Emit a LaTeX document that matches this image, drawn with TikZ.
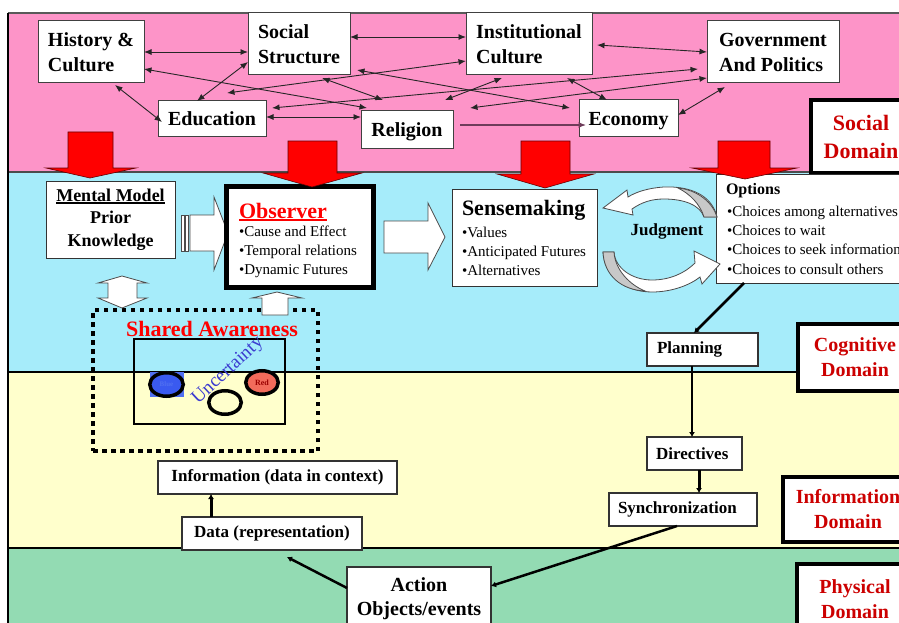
\documentclass[tikz,border=0pt]{standalone}
\usepackage{fontspec}
\setmainfont{Liberation Serif}
\usetikzlibrary{shapes.geometric,arrows.meta,calc}
\definecolor{pinkbg}{HTML}{FD94C8}
\definecolor{bluebg}{HTML}{A6ECFA}
\definecolor{yellowbg}{HTML}{FFFFCC}
\definecolor{greenbg}{HTML}{93DBB3}
\definecolor{domred}{HTML}{CC0000}
\definecolor{brightred}{HTML}{FF0000}
\definecolor{uncblue}{HTML}{3B3BD0}
\definecolor{bluefill}{HTML}{3A5AF0}
\definecolor{bluesq}{HTML}{5070F0}
\definecolor{redfill}{HTML}{F26B5B}
\definecolor{ribbon}{HTML}{C8C8C8}
\definecolor{mauve}{HTML}{6E3C5A}
\newcommand\thickul[3]{\setbox0\hbox{#3}\leavevmode\rlap{\color{#1}\rule[-3pt]{\wd0}{#2}}\box0}
\begin{document}
\begin{tikzpicture}[x=1pt,y=-1pt,
  every node/.style={inner sep=0pt, outer sep=0pt},
  sbox/.style={draw=black!75, line width=1pt, fill=white, font=\bfseries\fontsize{20}{25}\selectfont, align=left},
  lbox/.style={draw=black!80, line width=1.1pt, fill=white, font=\bfseries\fontsize{17}{20}\selectfont},
  dom/.style={draw=black, line width=3.5pt, fill=white, text=domred, align=center, font=\bfseries\fontsize{20}{25}\selectfont},
  web/.style={draw=black!85, line width=0.9pt, >={Latex[length=7.5pt,width=6pt]}, <->},
  flow/.style={draw=black, line width=2.2pt, >={Latex[length=5pt,width=6pt]}, ->},
  redarr/.style={fill=brightred, draw=black!60!red, line width=0.6pt},
  wblock/.style={fill=white, draw=black!70, line width=0.8pt},
  rib/.style={fill=white, draw=black!70, line width=0.8pt},
  blt/.style={font=\fontsize{15}{19}\selectfont, align=left, anchor=west},
]
\useasboundingbox (0,0) rectangle (899,623);
\fill[white] (0,0) rectangle (899,623);
% domain bands
\fill[pinkbg] (8,13) rectangle (899,172);
\fill[bluebg] (8,172) rectangle (899,372);
\fill[yellowbg] (8,372) rectangle (899,548);
\fill[greenbg] (8,548) rectangle (899,623);
\draw[black!65, line width=1.2pt] (8,13) -- (899,13);
\draw[black!70, line width=2pt] (8,172) -- (899,172);
\draw[black, line width=2pt] (8,372) -- (899,372);
\draw[black, line width=2pt] (8,548) -- (899,548);
\draw[black, line width=2pt] (8,13) -- (8,623);

% social domain boxes
\node[sbox, minimum width=106, minimum height=62] (hist) at (91,52) {History \&\\Culture};
\node[sbox, minimum width=102, minimum height=62] (soc) at (299,44) {Social\\Structure};
\node[sbox, minimum width=126, minimum height=62] (inst) at (529,44) {Institutional\\Culture};
\node[sbox, minimum width=132, minimum height=62] (gov) at (773,52) {Government\\And Politics};
\node[sbox, minimum width=108, minimum height=36, text depth=0pt] (edu) at (212,119) {Education};
\node[sbox, minimum width=92, minimum height=37, text depth=0pt] (rel) at (407,129.5) {Religion};
\node[sbox, minimum width=99, minimum height=37, text depth=0pt] (econ) at (628.5,118.5) {Economy};

\coordinate (f7) at (383,100);
\coordinate (f8) at (227,93);
\coordinate (f11) at (470,108);
\coordinate (f12) at (445,100);

\draw[web] (hist.east) -- (hist.east -| soc.west);
\draw[web] ([yshift=7pt]soc.east) -- ([yshift=7pt]inst.west);
\draw[web] ([yshift=-17pt]hist.east) -- ([xshift=6pt,yshift=3pt]rel.north west);
\draw[web] ([xshift=24pt,yshift=-2pt]hist.south) -- ([xshift=4pt,yshift=-3pt]edu.west);
\draw[web] ([yshift=-18pt]soc.west) -- ([xshift=-15pt]edu.north);
\draw[web] ([yshift=2pt]edu.east) -- ([yshift=2pt]edu.east -| rel.west);
\draw[web] ([xshift=23pt,yshift=-3pt]soc.south) -- (f7);
\draw[web] ([yshift=-17pt]inst.west) -- (f8);
\draw[web] ([xshift=7pt,yshift=-26pt]soc.east) -- ([xshift=-9pt,yshift=-8pt]econ.north west);
\draw[web] ([xshift=6pt,yshift=-7pt]edu.north east) -- ([xshift=-9pt,yshift=-17pt]gov.west);
\draw[web] ([yshift=-26pt]gov.west) -- (f11);
\draw[web] ([xshift=-27pt,yshift=-3pt]inst.south) -- (f12);
\draw[web] ([xshift=38pt,yshift=-3pt]inst.south) -- ([xshift=-21.5pt]econ.north);
\draw[web] ([xshift=-48pt,yshift=-4pt]gov.south) -- ([yshift=3.5pt]econ.east);
\draw[web] ([xshift=5pt,yshift=-1pt]inst.east) -- (gov.west);
\draw[web, draw=mauve, line width=1.2pt, ->] ([xshift=7pt,yshift=4.5pt]rel.east) -- ([xshift=7pt,yshift=4.5pt]rel.east -| econ.west);

% domain labels
\node[dom, font=\bfseries\fontsize{22}{28}\selectfont, minimum width=100, minimum height=73] (socdom) at (861,136.5) {Social\\Domain};
\node[dom, minimum width=114, minimum height=67] (cogdom) at (855,357.5) {Cognitive\\Domain};
\node[dom, minimum width=130, minimum height=65] (infdom) at (848,509.5) {Information\\Domain};
\node[dom, minimum width=116, minimum height=70] (phydom) at (855,599) {Physical\\Domain};

% cognitive domain
\node[draw=black!80, line width=1pt, fill=white, minimum width=129, minimum height=77, align=center, font=\bfseries\fontsize{18}{22.5}\selectfont] (mm) at (110.5,219.5) {\thickul{black}{1.8pt}{Mental Model}\\Prior\\Knowledge};

% striped arrow mental model -> observer
\filldraw[wblock] (181,215) rectangle (184,251);
\filldraw[wblock] (185.5,215) rectangle (188.5,251);
\filldraw[wblock] (190,215) -- (214,215) -- (214,197) -- (228,233) -- (214,270) -- (214,251) -- (190,251) -- cycle;

\node[draw=black, line width=5pt, fill=white, minimum width=147, minimum height=101] (obs) at (300,237) {};
\node[anchor=west, text=brightred, font=\bfseries\fontsize{22}{24}\selectfont] (obsT) at (239,212) {\thickul{brightred}{1.8pt}{Observer}};
\node[blt] (obsB) at (239,252) {•Cause and Effect\\•Temporal relations\\•Dynamic Futures};

% observer -> sensemaking
\filldraw[wblock] (384,221) -- (428,221) -- (428,203) -- (445,237) -- (428,270) -- (428,253) -- (384,253) -- cycle;

\node[draw=black!80, line width=1pt, fill=white, minimum width=145, minimum height=97] (sense) at (524.5,237.5) {};
\node[anchor=west, font=\bfseries\fontsize{22}{24}\selectfont] (senseT) at (462,210) {Sensemaking};
\node[blt] (senseB) at (462,251) {•Values\\•Anticipated Futures\\•Alternatives};

\node[draw=black!80, line width=1pt, fill=white, minimum width=194, minimum height=109] (opt) at (813,228.5) {};
\node[anchor=west, font=\bfseries\fontsize{16}{18}\selectfont] (optT) at (726,191) {Options};
\node[blt, font=\fontsize{15}{19.3}\selectfont] (optB) at (727,240) {•Choices among alternatives\\•Choices to wait\\•Choices to seek information\\•Choices to consult others};

% judgment ribbons
\filldraw[rib] (717,217) .. controls (712,195) and (690,186) .. (664,187) .. controls (648,188) and (636,192) .. (628,197) -- (627,190) -- (603,208) -- (633,215) -- (632,209) .. controls (642,202) and (652,199) .. (664,199) .. controls (684,199) and (700,205) .. (704,217) -- cycle;
\filldraw[fill=ribbon, draw=black!70, line width=0.8pt] (678,188) .. controls (698,190) and (713,203) .. (717,217) -- (704,217) .. controls (700,204) and (690,194) .. (678,188) -- cycle;
\filldraw[rib] (603,252) .. controls (604,276) and (625,292) .. (652,292) .. controls (672,292) and (690,285) .. (700,277) -- (702,284) -- (720,264) -- (694,251) -- (695,263) .. controls (685,273) and (670,280) .. (652,280) .. controls (632,280) and (615,268) .. (614,252) -- cycle;
\filldraw[fill=ribbon, draw=black!70, line width=0.8pt] (603,252) .. controls (604,276) and (622,290) .. (645,291) .. controls (630,285) and (615,270) .. (614,252) -- cycle;
\node[font=\bfseries\fontsize{17}{20}\selectfont] (judg) at (667,231) {Judgment};

% planning chain
\node[lbox, minimum height=33, text width=91, inner xsep=10pt, align=left] (plan) at (702.5,349.5) {Planning};
\node[lbox, minimum height=33, text width=77, inner xsep=9pt, align=left] (dir) at (694.5,453.5) {Directives};
\node[lbox, minimum height=33, text width=130, inner xsep=9pt, align=left] (sync) at (683,509.5) {Synchronization};
\node[lbox, minimum width=239, minimum height=33] (info) at (277.5,477.5) {Information (data in context)};
\node[lbox, minimum width=180, minimum height=33] (data) at (272,533.5) {Data (representation)};
\node[lbox, minimum width=144, minimum height=64, align=center, font=\bfseries\fontsize{20}{24}\selectfont] (act) at (419,599) {Action\\Objects/events};

\draw[flow, line width=2.5pt] ([xshift=-69pt]opt.south) -- ([xshift=-8.5pt]plan.north);
\draw[flow, line width=2pt] ([xshift=-10.5pt]plan.south) -- ([xshift=-2.5pt]dir.north);
\draw[flow, line width=3pt] ([xshift=4.5pt]dir.south) -- ([xshift=16pt]sync.north);
\draw[flow, line width=2.5pt] ([xshift=-6pt]sync.south) -- ([yshift=13pt]act.east);
\draw[flow, line width=2.5pt] ([yshift=11pt]act.west) -- ([xshift=15pt,yshift=-7pt]data.south);
\draw[flow, line width=3pt] ([xshift=-61pt]data.north) -- ([xshift=-66.5pt]info.south);

% shared awareness
\node[draw=black, line width=4.5pt, dash pattern=on 4.5pt off 4.5pt, minimum width=225, minimum height=141] (sa) at (205.5,380.5) {};
\node[text=brightred, font=\bfseries\fontsize{22}{24}\selectfont] (saT) at (212,329) {Shared Awareness};
\node[draw=black, line width=1.5pt, minimum width=151, minimum height=85] (inner) at (209.5,381.5) {};
\node[fill=bluesq, minimum width=34, minimum height=25] (bsq) at (167,384.5) {};
\node[ellipse, draw=black, line width=3.5pt, fill=bluefill, minimum width=33.5, minimum height=23.5, text=bluesq, font=\bfseries\fontsize{7}{8}\selectfont] (blue) at (166.5,384.5) {Blue};
\node[ellipse, draw=black, line width=3.5pt, fill=redfill, minimum width=32.5, minimum height=23.5, text=black!40!red, font=\bfseries\fontsize{8}{9}\selectfont] (red) at (262,382.5) {Red};
\node[ellipse, draw=black, line width=3.5pt, minimum width=32.5, minimum height=23.5] (wht) at (225,402.5) {};
\node[rotate=43, text=uncblue, font=\fontsize{19}{21}\selectfont] (unc) at (228,371) {Uncertainty};

% white block arrows around shared awareness
\filldraw[wblock] (122,276) -- (147,283) -- (137,283) -- (137,298) -- (147,298) -- (122,308) -- (98,298) -- (108,298) -- (108,283) -- (98,283) -- cycle;
\filldraw[wblock] (277,292) -- (302,298) -- (288,298) -- (288,315) -- (262,315) -- (262,298) -- (252,298) -- cycle;

% red arrows from social domain
\filldraw[redarr] (68,132) -- (113,132) -- (113,168) -- (136,168) -- (90,178) -- (46,168) -- (68,168) -- cycle;
\filldraw[redarr] (288,141) -- (337,141) -- (337,173) -- (362,173) -- (312,187) -- (263,173) -- (288,173) -- cycle;
\filldraw[redarr] (521,141) -- (570,141) -- (570,174) -- (594,174) -- (545,188) -- (497,174) -- (521,174) -- cycle;
\filldraw[redarr] (718,141) -- (770,141) -- (770,168) -- (797,168) -- (745,179) -- (692,168) -- (718,168) -- cycle;
\end{tikzpicture}
\end{document}
